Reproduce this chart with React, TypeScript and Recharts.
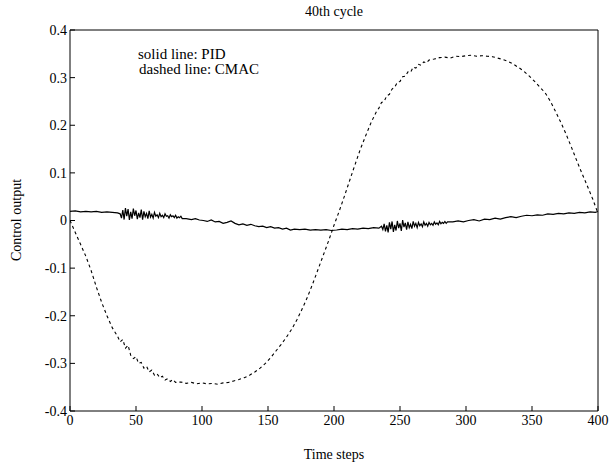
import React from 'react';
import { LineChart, Line, XAxis, YAxis } from 'recharts';

const xTicks = [0, 50, 100, 150, 200, 250, 300, 350, 400];
const yTicks = [-0.4, -0.3, -0.2, -0.1, 0, 0.1, 0.2, 0.3, 0.4];

// solid line: PID
const pidSteps = [
  0, 4, 8, 12, 16, 20, 24, 28, 32, 36,
  38, 39, 40, 41, 42, 43, 44, 45, 46, 47,
  48, 49, 50, 51, 52, 53, 54, 55, 56, 57,
  58, 59, 60, 61, 62, 63, 64, 65, 66, 67,
  68, 69, 70, 71, 72, 73, 74, 75, 76, 77,
  78, 79, 80, 81, 82, 83, 84, 85,
  88, 92, 95, 98, 101, 104, 107, 110, 113, 116,
  119, 122, 125, 128, 131, 134, 137, 140, 143, 146,
  149, 152, 155, 158, 161, 164, 167, 170, 174, 178,
  182, 186, 190, 194, 198, 202, 206, 210, 214, 218,
  222, 226, 230, 234,
  236, 237, 238, 239, 240, 241, 242, 243, 244, 245,
  246, 247, 248, 249, 250, 251, 252, 253, 254, 255,
  256, 257, 258, 259, 260, 261, 262, 263, 264, 265,
  266, 267, 268, 269, 270, 271, 272, 273, 274, 275,
  276, 277, 278, 279, 280, 281, 282, 283, 284, 285, 286,
  290, 294, 298, 302, 306, 310, 314, 318, 322, 326,
  330, 334, 338, 342, 346, 350, 354, 358, 362, 366,
  370, 374, 378, 382, 386, 390, 394, 398, 400,
];
const pidValues = [
  0.019, 0.020, 0.018, 0.019, 0.018, 0.019, 0.017, 0.018, 0.017, 0.016,
  0.014, 0.005, 0.022, 0.002, 0.026, 0.009, 0.024, 0.001, 0.018, 0.004,
  0.025, 0.010, 0.021, 0.003, 0.016, 0.006, 0.023, 0.002, 0.019, 0.008,
  0.015, 0.004, 0.020, 0.007, 0.013, 0.005, 0.017, 0.009, 0.012, 0.006,
  0.015, 0.008, 0.011, 0.006, 0.014, 0.009, 0.010, 0.005, 0.012, 0.008,
  0.010, 0.006, 0.011, 0.005, 0.008, 0.006, 0.009, 0.004,
  0.004, 0.002, 0.004, 0.001, 0.000, -0.002, 0.001, -0.003, -0.002, -0.006,
  -0.004, -0.001, -0.006, -0.009, -0.007, -0.010, -0.008, -0.011, -0.013, -0.012,
  -0.015, -0.013, -0.016, -0.015, -0.018, -0.016, -0.020, -0.018, -0.019, -0.018,
  -0.020, -0.019, -0.020, -0.019, -0.021, -0.020, -0.018, -0.019, -0.017, -0.018,
  -0.016, -0.017, -0.015, -0.016,
  -0.012, -0.019, -0.007, -0.023, -0.010, -0.025, -0.004, -0.018, -0.002, -0.024,
  -0.009, -0.021, -0.001, -0.016, -0.006, -0.022, 0.001, -0.014, -0.005, -0.019,
  -0.003, -0.015, -0.008, -0.017, -0.002, -0.012, -0.006, -0.015, -0.004, -0.011,
  -0.007, -0.013, -0.003, -0.010, -0.006, -0.012, -0.004, -0.009, -0.006, -0.010,
  -0.003, -0.008, -0.005, -0.009, -0.002, -0.007, -0.004, -0.006, -0.002, -0.006, -0.003,
  -0.003, -0.001, -0.003, 0.000, 0.002, -0.001, 0.003, 0.002, 0.005, 0.003,
  0.006, 0.008, 0.006, 0.009, 0.011, 0.010, 0.012, 0.011, 0.014, 0.013,
  0.015, 0.014, 0.016, 0.015, 0.017, 0.016, 0.018, 0.017, 0.019,
];

// dashed line: CMAC
const cmacSteps = [
  0, 4, 8, 12, 16, 20, 24, 28, 32, 36,
  38, 40, 42, 44, 46, 48, 50, 52, 54, 56,
  58, 60, 62, 64, 66, 68, 70, 72, 74, 76,
  78, 80, 84, 88, 92, 96, 100, 104, 108, 112,
  116, 120, 124, 128, 132, 136, 140, 144, 148, 152,
  156, 160, 164, 168, 172, 176, 180, 184, 188, 192,
  196, 200, 204, 208, 212, 216, 220, 224, 228, 232,
  234, 236, 238, 240, 242, 244, 246, 248, 250, 252,
  254, 256, 258, 260, 262, 264, 266, 268, 270, 272,
  276, 280, 284, 288, 292, 296, 300, 304, 308, 312,
  316, 320, 324, 328, 332, 336, 340, 344, 348, 352,
  356, 360, 364, 368, 372, 376, 380, 384, 388, 392,
  396, 400,
];
const cmacValues = [
  0.000, -0.025, -0.050, -0.075, -0.105, -0.140, -0.172, -0.200, -0.225, -0.243,
  -0.255, -0.250, -0.268, -0.262, -0.283, -0.290, -0.286, -0.300, -0.298, -0.310,
  -0.306, -0.318, -0.314, -0.325, -0.322, -0.330, -0.327, -0.335, -0.332, -0.338,
  -0.334, -0.340, -0.339, -0.342, -0.340, -0.343, -0.341, -0.343, -0.342, -0.344,
  -0.341, -0.340, -0.337, -0.334, -0.330, -0.325, -0.318, -0.310, -0.300, -0.288,
  -0.274, -0.260, -0.245, -0.228, -0.208, -0.185, -0.160, -0.132, -0.102, -0.072,
  -0.042, -0.010, 0.020, 0.052, 0.085, 0.118, 0.150, 0.178, 0.205, 0.228,
  0.236, 0.248, 0.250, 0.262, 0.265, 0.276, 0.280, 0.290, 0.292, 0.302,
  0.303, 0.312, 0.311, 0.322, 0.320, 0.328, 0.326, 0.333, 0.331, 0.337,
  0.339, 0.342, 0.343, 0.341, 0.345, 0.344, 0.346, 0.347, 0.345, 0.346,
  0.345, 0.344, 0.341, 0.338, 0.334, 0.328, 0.321, 0.313, 0.303, 0.292,
  0.280, 0.268, 0.250, 0.228, 0.205, 0.180, 0.153, 0.125, 0.098, 0.072,
  0.045, 0.015,
];

const pidData = pidSteps.map((t, i) => ({ t, v: pidValues[i] }));
const cmacData = cmacSteps.map((t, i) => ({ t, v: cmacValues[i] }));

const font = '"Liberation Serif", "Times New Roman", serif';
const tickStyle = { fontSize: 14, fill: '#000', fontFamily: font };

const fmtY = (v: number) => (Math.abs(v) < 1e-9 ? '0' : v.toFixed(1));

export default function App() {
  return (
    <div style={{ position: 'absolute', left: 0, top: 0, width: 609, height: 467, background: '#fff', fontFamily: font, color: '#000' }}>
      <LineChart width={609} height={467} margin={{ top: 29, right: 10, bottom: 26, left: 12 }}>
        <XAxis
          xAxisId="bottom"
          type="number"
          dataKey="t"
          domain={[0, 400]}
          ticks={xTicks}
          allowDataOverflow
          height={30}
          tickSize={-5}
          tickMargin={9}
          tick={tickStyle}
          stroke="#000"
        />
        <XAxis
          xAxisId="top"
          orientation="top"
          type="number"
          dataKey="t"
          domain={[0, 400]}
          ticks={xTicks}
          height={1}
          tickSize={-5}
          tick={false}
          stroke="#000"
        />
        <YAxis
          yAxisId="left"
          type="number"
          domain={[-0.4, 0.4]}
          ticks={yTicks}
          allowDataOverflow
          width={58}
          tickSize={-5}
          tickMargin={8}
          tickFormatter={fmtY}
          tick={tickStyle}
          stroke="#000"
        />
        <YAxis
          yAxisId="right"
          orientation="right"
          type="number"
          domain={[-0.4, 0.4]}
          ticks={yTicks}
          width={1}
          tickSize={-5}
          tick={false}
          stroke="#000"
        />
        <Line
          xAxisId="bottom"
          yAxisId="left"
          data={pidData}
          dataKey="v"
          type="linear"
          stroke="#000"
          strokeWidth={1.2}
          dot={false}
          isAnimationActive={false}
        />
        <Line
          xAxisId="bottom"
          yAxisId="left"
          data={cmacData}
          dataKey="v"
          type="linear"
          stroke="#000"
          strokeWidth={1.1}
          strokeDasharray="3 3"
          dot={false}
          isAnimationActive={false}
        />
      </LineChart>
      <div style={{ position: 'absolute', left: 334, top: 12, transform: 'translate(-50%, -50%)', fontSize: 14, whiteSpace: 'nowrap' }}>
        40th cycle
      </div>
      <div style={{ position: 'absolute', left: 334, top: 455, transform: 'translate(-50%, -50%)', fontSize: 14, whiteSpace: 'nowrap' }}>
        Time steps
      </div>
      <div style={{ position: 'absolute', left: 17, top: 220, transform: 'translate(-50%, -50%) rotate(-90deg)', fontSize: 14, whiteSpace: 'nowrap' }}>
        Control output
      </div>
      <div style={{ position: 'absolute', left: 138, top: 47, fontSize: 15, lineHeight: '15px', whiteSpace: 'nowrap' }}>
        solid line: PID
      </div>
      <div style={{ position: 'absolute', left: 139, top: 62, fontSize: 15, lineHeight: '15px', whiteSpace: 'nowrap' }}>
        dashed line: CMAC
      </div>
    </div>
  );
}
